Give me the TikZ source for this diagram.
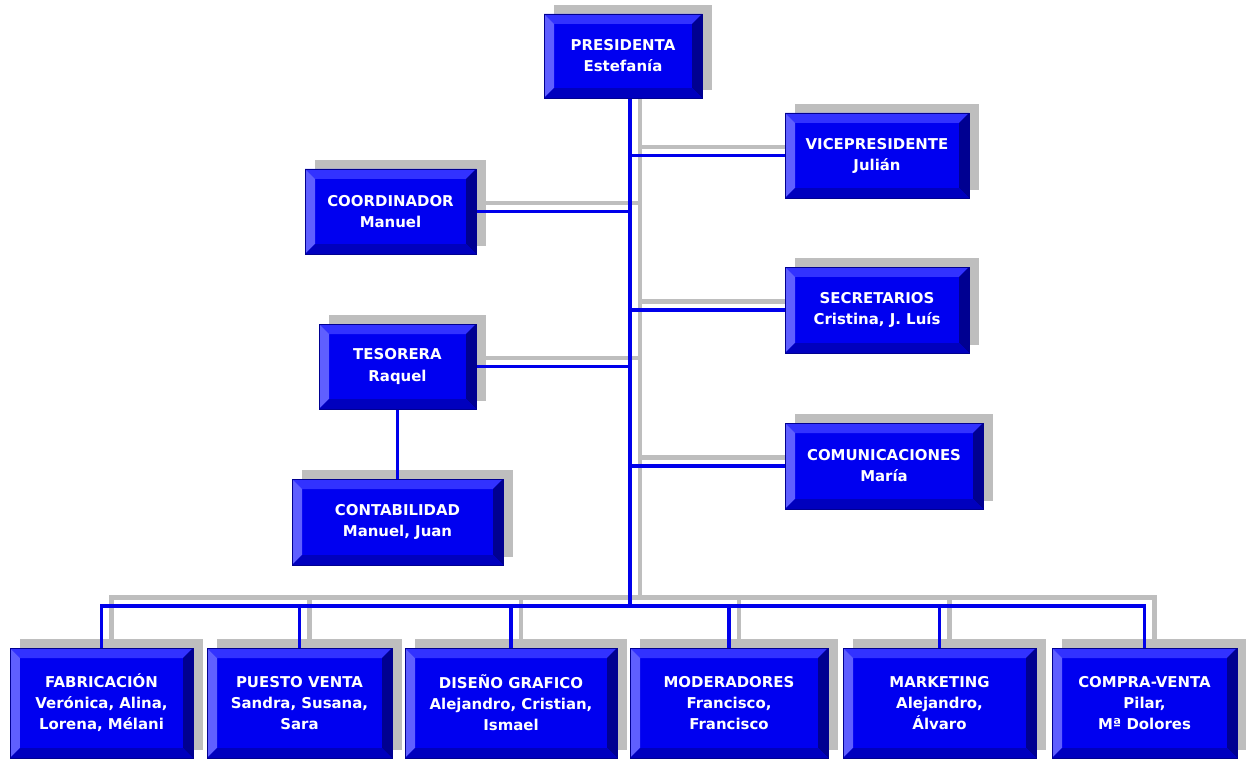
\documentclass[tikz,border=0pt]{standalone}
\usepackage{fontspec}
\setmainfont{DejaVu Sans}

\definecolor{boxblue}{RGB}{0,0,240}
\definecolor{bevtop}{RGB}{50,50,255}
\definecolor{bevleft}{RGB}{95,95,255}
\definecolor{bevright}{RGB}{0,0,145}
\definecolor{bevbottom}{RGB}{0,0,190}
\definecolor{lineblue}{RGB}{0,0,235}
\definecolor{shadowgrey}{RGB}{190,190,190}

\pgfdeclarelayer{greylayer}
\pgfdeclarelayer{shadowlayer}
\pgfdeclarelayer{bluelayer}
\pgfsetlayers{greylayer,shadowlayer,bluelayer,main}

\tikzset{
  orgbox/.style 2 args={rectangle, fill=boxblue, draw=bevright, line width=0.4pt,
    minimum width=#1*0.02cm, minimum height=#2*0.02cm, inner sep=0pt,
    text=white, align=center, font=\bfseries\fontsize{8.5}{12}\selectfont,
    path picture={
      \fill[bevtop] (path picture bounding box.north west) -- (path picture bounding box.north east)
        -- ([xshift=-0.2cm,yshift=-0.2cm]path picture bounding box.north east)
        -- ([xshift=0.2cm,yshift=-0.2cm]path picture bounding box.north west) -- cycle;
      \fill[bevleft] (path picture bounding box.north west) -- (path picture bounding box.south west)
        -- ([xshift=0.2cm,yshift=0.2cm]path picture bounding box.south west)
        -- ([xshift=0.2cm,yshift=-0.2cm]path picture bounding box.north west) -- cycle;
      \fill[bevright] (path picture bounding box.north east) -- (path picture bounding box.south east)
        -- ([xshift=-0.2cm,yshift=0.2cm]path picture bounding box.south east)
        -- ([xshift=-0.2cm,yshift=-0.2cm]path picture bounding box.north east) -- cycle;
      \fill[bevbottom] (path picture bounding box.south west) -- (path picture bounding box.south east)
        -- ([xshift=-0.2cm,yshift=0.2cm]path picture bounding box.south east)
        -- ([xshift=0.2cm,yshift=0.2cm]path picture bounding box.south west) -- cycle;
    }},
  boxshadow/.style={fill=shadowgrey, transform canvas={xshift=0.2cm,yshift=0.17cm}},
  blueline/.style={draw=lineblue, line width=2.1pt},
  greyline/.style={draw=shadowgrey, line width=2.6pt, transform canvas={xshift=0.2cm,yshift=0.17cm}}
}

\begin{document}
\begin{tikzpicture}[x=0.02cm, y=-0.02cm]
  \useasboundingbox (0,0) rectangle (1246,760);
  % top of the chart
  \node[orgbox={158}{84}] (pres) at (623,56) {PRESIDENTA\\Estefanía};
  \node[orgbox={184}{85}] (vice) at (877,155.5) {VICEPRESIDENTE\\Julián};
  \node[orgbox={171}{85}] (coord) at (390.5,211.5) {COORDINADOR\\Manuel};
  \node[orgbox={184}{86}] (secret) at (877,310) {SECRETARIOS\\Cristina, J. Luís};
  \node[orgbox={157}{85}] (teso) at (397.5,366.5) {TESORERA\\Raquel};
  \node[orgbox={198}{86}] (comun) at (884,466) {COMUNICACIONES\\María};
  \node[orgbox={211}{86}] (contab) at (397.5,522) {CONTABILIDAD\\Manuel, Juan};
  % bottom row
  \node[orgbox={183}{110}] (fab) at (101.5,703) {FABRICACIÓN\\Verónica, Alina,\\Lorena, Mélani};
  \node[orgbox={185}{110}] (puesto) at (299.5,703) {PUESTO VENTA\\Sandra, Susana,\\Sara};
  \node[orgbox={212}{110}] (diseno) at (511,703) {DISEÑO GRAFICO\\Alejandro, Cristian,\\Ismael};
  \node[orgbox={198}{110}] (moder) at (729,703) {MODERADORES\\Francisco,\\Francisco};
  \node[orgbox={193}{110}] (market) at (939.5,703) {MARKETING\\Alejandro,\\Álvaro};
  \node[orgbox={185}{110}] (compra) at (1144.5,703) {COMPRA-VENTA\\Pilar,\\Mª Dolores};

  \coordinate (bus) at (630,606);

  \begin{pgfonlayer}{shadowlayer}
    \foreach \n in {pres,vice,coord,secret,teso,comun,contab,fab,puesto,diseno,moder,market,compra}{
      \fill[boxshadow] (\n.south west) rectangle (\n.north east);
    }
  \end{pgfonlayer}

  \begin{pgfonlayer}{greylayer}
    \draw[greyline] (pres.south -| bus) -- (bus);
    \foreach \n in {vice,secret,comun}{
      \draw[greyline] (\n.west) -- (\n.west -| bus);
    }
    \foreach \n in {coord,teso}{
      \draw[greyline] (\n.east) -- (\n.east -| bus);
    }
    \draw[greyline] (fab.north) |- (bus) -| (compra.north);
    \foreach \n in {puesto,diseno,moder,market}{
      \draw[greyline] (\n.north |- bus) -- (\n.north);
    }
  \end{pgfonlayer}

  \begin{pgfonlayer}{bluelayer}
    \draw[blueline] (pres.south -| bus) -- (bus);
    \foreach \n in {vice,secret,comun}{
      \draw[blueline] (\n.west) -- (\n.west -| bus);
    }
    \foreach \n in {coord,teso}{
      \draw[blueline] (\n.east) -- (\n.east -| bus);
    }
    \draw[blueline] (teso.south) -- (contab.north);
    \draw[blueline] (fab.north) |- (bus) -| (compra.north);
    \foreach \n in {puesto,diseno,moder,market}{
      \draw[blueline] (\n.north |- bus) -- (\n.north);
    }
  \end{pgfonlayer}
\end{tikzpicture}
\end{document}
